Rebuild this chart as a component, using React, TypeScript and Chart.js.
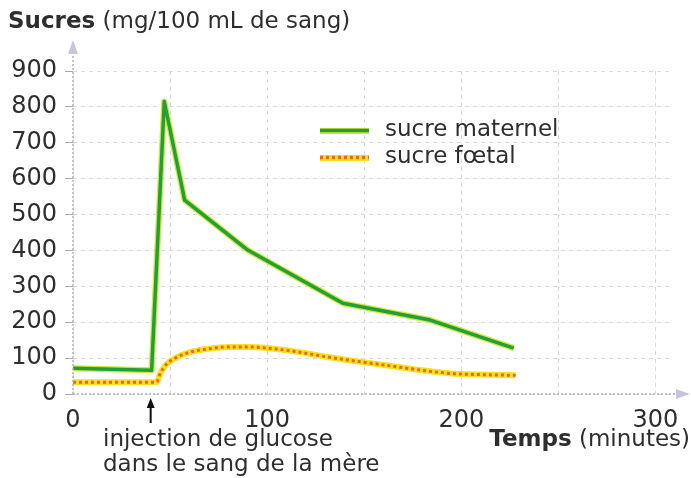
import React, { useEffect, useRef } from "react";
import { Chart, registerables } from "chart.js";

Chart.register(...registerables);

// ---- data ----
const timeMaternal = [0, 40.5, 47, 57.5, 90, 139, 184, 227];
const sugarMaternal = [72, 66, 815, 540, 401, 253, 206, 128];

const timeFoetal = [0, 43, 45, 48, 52, 60, 70, 80, 90, 100, 115, 130, 145, 160, 180, 195, 210, 228];
const sugarFoetal = [33, 33, 58, 82, 98, 116, 126, 131, 131, 128, 118, 104, 92, 81, 66, 57, 54, 52];

const seriesLabels = ["sucre maternel", "sucre fœtal"];

const xTickValues = [0, 50, 100, 150, 200, 250, 300];
const xTickLabels = ["0", "", "100", "", "200", "", "300"];
const yTickValues = [0, 100, 200, 300, 400, 500, 600, 700, 800, 900];

const yTitleBold = "Sucres";
const yTitleRest = " (mg/100 mL de sang)";
const xTitleBold = "Temps";
const xTitleRest = " (minutes)";
const annotationLines = ["injection de glucose", "dans le sang de la mère"];
const injectionTime = 40;

const FONT = "'DejaVu Sans', sans-serif";
const TEXT = "#2e2e2e";
const TXT_SIZE = 23;

const GREEN = "#21a03a";
const GREEN_HALO = "#cfe63a";
const ORANGE = "#e8682a";
const YELLOW = "#f6e11c";

function pts(xs: number[], ys: number[]) {
  return xs.map((x, i) => ({ x, y: ys[i] }));
}

const overlayPlugin = {
  id: "overlay",
  afterDraw(chart: any) {
    const ctx = chart.ctx as CanvasRenderingContext2D;
    const xs = chart.scales.x;
    const ys = chart.scales.y;
    const x0 = xs.getPixelForValue(0);
    const y0 = ys.getPixelForValue(0);
    ctx.save();

    // axes with arrows
    ctx.strokeStyle = "#b3aec4";
    ctx.lineWidth = 1.5;
    ctx.setLineDash([2, 2]);
    ctx.beginPath();
    ctx.moveTo(x0, y0);
    ctx.lineTo(x0, 48);
    ctx.moveTo(x0, y0);
    ctx.lineTo(684, y0);
    ctx.stroke();
    ctx.setLineDash([]);
    ctx.fillStyle = "#c9c4d8";
    ctx.beginPath();
    ctx.moveTo(x0, 40);
    ctx.lineTo(x0 - 5, 54);
    ctx.lineTo(x0 + 5, 54);
    ctx.closePath();
    ctx.fill();
    ctx.beginPath();
    ctx.moveTo(690, y0);
    ctx.lineTo(676, y0 - 5);
    ctx.lineTo(676, y0 + 5);
    ctx.closePath();
    ctx.fill();

    // titles
    ctx.fillStyle = TEXT;
    ctx.textBaseline = "middle";
    ctx.textAlign = "left";
    ctx.font = `bold ${TXT_SIZE}px ${FONT}`;
    ctx.fillText(yTitleBold, 8, 22);
    const w = ctx.measureText(yTitleBold).width;
    ctx.font = `${TXT_SIZE}px ${FONT}`;
    ctx.fillText(yTitleRest, 8 + w, 22);

    ctx.font = `${TXT_SIZE}px ${FONT}`;
    const wr = ctx.measureText(xTitleRest).width;
    ctx.fillText(xTitleRest, 690 - wr, 440);
    ctx.font = `bold ${TXT_SIZE}px ${FONT}`;
    const wb = ctx.measureText(xTitleBold).width;
    ctx.fillText(xTitleBold, 690 - wr - wb, 440);

    // injection arrow + annotation
    const ax = xs.getPixelForValue(injectionTime);
    ctx.strokeStyle = "#111";
    ctx.fillStyle = "#111";
    ctx.lineWidth = 2;
    ctx.beginPath();
    ctx.moveTo(ax, 423);
    ctx.lineTo(ax, 404);
    ctx.stroke();
    ctx.beginPath();
    ctx.moveTo(ax, 398);
    ctx.lineTo(ax - 4, 408);
    ctx.lineTo(ax + 4, 408);
    ctx.closePath();
    ctx.fill();
    ctx.fillStyle = TEXT;
    ctx.font = `${TXT_SIZE}px ${FONT}`;
    ctx.fillText(annotationLines[0], 103, 440);
    ctx.fillText(annotationLines[1], 103, 465);

    // legend
    const items = [
      { y: 131, halo: GREEN_HALO, color: GREEN, dash: [] as number[] },
      { y: 158, halo: YELLOW, color: ORANGE, dash: [3, 3] },
    ];
    items.forEach((it, i) => {
      ctx.lineCap = "butt";
      ctx.setLineDash([]);
      ctx.strokeStyle = it.halo;
      ctx.lineWidth = 6;
      ctx.beginPath();
      ctx.moveTo(320, it.y);
      ctx.lineTo(369, it.y);
      ctx.stroke();
      ctx.setLineDash(it.dash);
      ctx.strokeStyle = it.color;
      ctx.lineWidth = 3.5;
      ctx.beginPath();
      ctx.moveTo(320, it.y - 0.5);
      ctx.lineTo(369, it.y - 0.5);
      ctx.stroke();
      ctx.setLineDash([]);
      ctx.fillStyle = TEXT;
      ctx.font = `${TXT_SIZE}px ${FONT}`;
      ctx.fillText(seriesLabels[i], 385, it.y - 1);
    });
    ctx.restore();
  },
};

export default function App() {
  const ref = useRef<HTMLCanvasElement | null>(null);
  useEffect(() => {
    if (!ref.current) return;
    const chart = new Chart(ref.current, {
      type: "line",
      data: {
        datasets: [
          {
            label: seriesLabels[0],
            data: pts(timeMaternal, sugarMaternal),
            borderColor: GREEN,
            borderWidth: 3.5,
            borderJoinStyle: "round",
            pointRadius: 0,
            tension: 0,
            order: 1,
          },
          {
            label: seriesLabels[0] + " (halo)",
            data: pts(timeMaternal, sugarMaternal),
            borderColor: GREEN_HALO,
            borderWidth: 6,
            borderJoinStyle: "round",
            pointRadius: 0,
            tension: 0,
            order: 2,
          },
          {
            label: seriesLabels[1],
            data: pts(timeFoetal, sugarFoetal),
            borderColor: ORANGE,
            borderWidth: 3,
            borderDash: [3, 3],
            borderJoinStyle: "round",
            pointRadius: 0,
            cubicInterpolationMode: "monotone",
            order: 1,
          },
          {
            label: seriesLabels[1] + " (halo)",
            data: pts(timeFoetal, sugarFoetal),
            borderColor: YELLOW,
            borderWidth: 6,
            borderJoinStyle: "round",
            pointRadius: 0,
            cubicInterpolationMode: "monotone",
            order: 2,
          },
        ],
      },
      options: {
        animation: false,
        responsive: false,
        devicePixelRatio: 1,
        layout: { padding: { left: 0, right: 20, top: 71, bottom: 0 } },
        plugins: { legend: { display: false }, tooltip: { enabled: false }, title: { display: false } },
        scales: {
          x: {
            type: "linear",
            min: 0,
            max: 308,
            afterBuildTicks: (s: any) => {
              s.ticks = xTickValues.map((v) => ({ value: v }));
            },
            afterFit: (s: any) => {
              s.height = 84;
            },
            ticks: {
              autoSkip: false,
              maxRotation: 0,
              padding: 12,
              color: TEXT,
              font: { family: "DejaVu Sans", size: 24 },
              callback: (v: any, i: number) => xTickLabels[i],
            },
            grid: { color: "#dadada", lineWidth: 1, tickLength: 0, drawTicks: false },
            border: { display: false, dash: [4, 4] },
          },
          y: {
            type: "linear",
            min: 0,
            max: 900,
            afterBuildTicks: (s: any) => {
              s.ticks = yTickValues.map((v) => ({ value: v }));
            },
            afterFit: (s: any) => {
              s.width = 73;
            },
            ticks: {
              padding: 8,
              color: TEXT,
              font: { family: "DejaVu Sans", size: 24 },
              callback: (v: any) => String(v),
            },
            grid: { color: "#dadada", lineWidth: 1, tickLength: 8, tickColor: "#aaa" },
            border: { display: false, dash: [4, 4] },
          },
        },
      },
      plugins: [overlayPlugin],
    });
    return () => chart.destroy();
  }, []);
  return (
    <div style={{ position: "absolute", left: 0, top: 0, width: 691, height: 478, background: "#fff" }}>
      <canvas ref={ref} width={691} height={478} style={{ width: 691, height: 478, display: "block" }} />
    </div>
  );
}
